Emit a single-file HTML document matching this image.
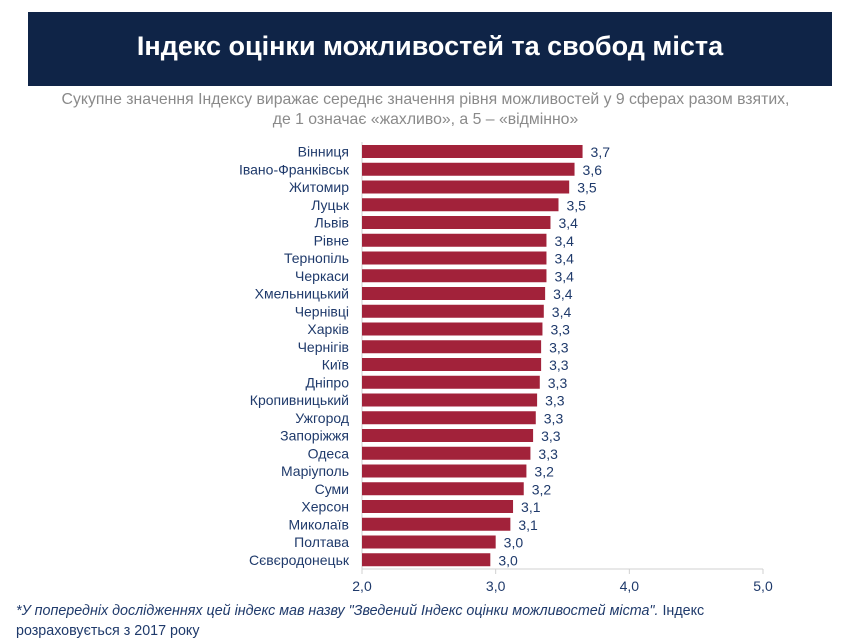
<!DOCTYPE html>
<html><head><meta charset="utf-8"><style>
body{margin:0;width:851px;height:642px;background:#fff;overflow:hidden;font-family:"Liberation Sans","DejaVu Sans",sans-serif;}
#hdr{position:absolute;left:28px;top:12px;width:804px;height:74px;background:#0f2447;}
#title{position:absolute;left:0;width:100%;top:19px;text-align:center;color:#fff;font-size:27px;font-weight:bold;}
.sub{position:absolute;left:0;width:851px;text-align:center;color:#8a8a8a;font-size:15.8px;}
#foot{position:absolute;left:16px;top:601px;color:#1f3a6b;font-size:14.3px;line-height:20px;}
</style></head><body>
<div id="hdr"><div id="title">Індекс оцінки можливостей та свобод міста</div></div>
<div class="sub" style="top:91px">Сукупне значення Індексу виражає середнє значення рівня можливостей у 9 сферах разом взятих,</div>
<div class="sub" style="top:111px">де 1 означає «жахливо», а 5 – «відмінно»</div>
<svg id="chart" width="851" height="642" style="position:absolute;left:0;top:0"></svg>
<div id="foot"><i>*У попередніх дослідженнях цей індекс мав назву "Зведений Індекс оцінки можливостей міста".</i> Індекс<br>розраховується з 2017 року</div>
<script>
const cities=["Вінниця","Івано-Франківськ","Житомир","Луцьк","Львів","Рівне","Тернопіль","Черкаси","Хмельницький","Чернівці","Харків","Чернігів","Київ","Дніпро","Кропивницький","Ужгород","Запоріжжя","Одеса","Маріуполь","Суми","Херсон","Миколаїв","Полтава","Сєвєродонецьк"];
const values=[3.65,3.59,3.55,3.47,3.41,3.38,3.38,3.38,3.37,3.36,3.35,3.34,3.34,3.33,3.31,3.30,3.28,3.26,3.23,3.21,3.13,3.11,3.00,2.96];
const valueLabels=["3,7","3,6","3,5","3,5","3,4","3,4","3,4","3,4","3,4","3,4","3,3","3,3","3,3","3,3","3,3","3,3","3,3","3,3","3,2","3,2","3,1","3,1","3,0","3,0"];
const ticks=[2,3,4,5];
const tickLabels=["2,0","3,0","4,0","5,0"];
const NS="http://www.w3.org/2000/svg";
const svg=document.getElementById('chart');
const x=v=>362+(v-2)*133.67;
const y0=143,step=17.75,bh=13;
const y=i=>y0+i*step;
function mk(t,a){const e=document.createElementNS(NS,t);for(const k in a)e.setAttribute(k,a[k]);svg.appendChild(e);return e;}
let ax=mk('line',{x1:362,y1:142,x2:362,y2:569,stroke:'#d0d0d0'});


let xa=mk('line',{x1:362,y1:569,x2:763,y2:569,stroke:'#d0d0d0'});


ticks.forEach((t,i)=>{
 let l=mk('line',{x1:x(t),y1:569,x2:x(t),y2:574,stroke:'#d0d0d0'});
 
 
 let tx=mk('text',{x:x(t),y:591,'text-anchor':'middle','font-size':14,fill:'#1f3a6b'});
 tx.textContent=tickLabels[i];
 
 
});
cities.forEach((c,i)=>{
 const yy=y(i);
 let r=mk('rect',{x:362,y:yy+2,width:x(values[i])-362,height:bh,fill:'#a2223a'});
 
 
 let lb=mk('text',{x:349,y:yy+13.5,'text-anchor':'end','font-size':14,fill:'#1f3a6b'});
 lb.textContent=c;
 
 
 let vl=mk('text',{x:x(values[i])+8,y:yy+14,'font-size':14,fill:'#1f3a6b'});
 vl.textContent=valueLabels[i];
 
 
});
</script>
</body></html>
